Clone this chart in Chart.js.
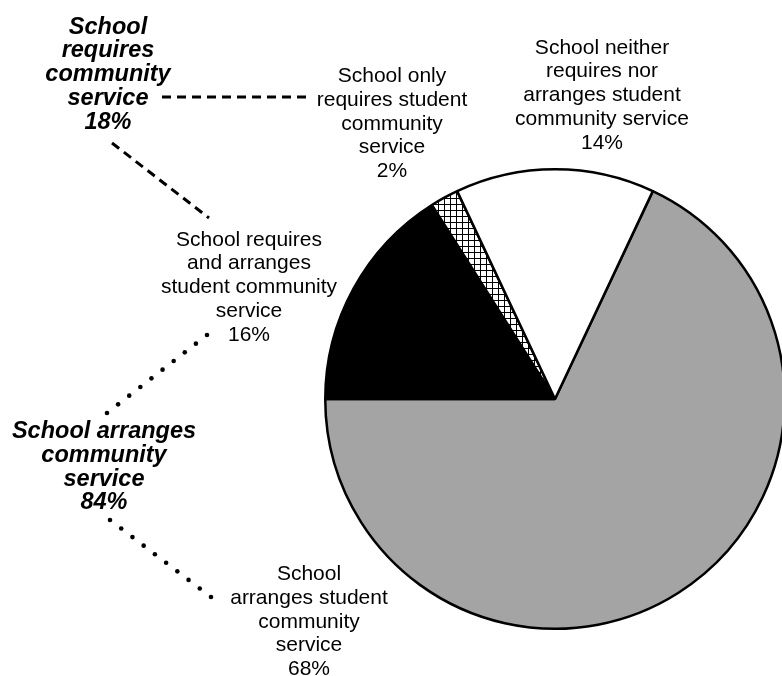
<!DOCTYPE html>
<html>
<head>
<meta charset="utf-8">
<title>School community service</title>
<script src="https://cdn.jsdelivr.net/npm/chart.js@4.4.1/dist/chart.umd.min.js"></script>
<style>
  html, body {
    margin: 0;
    padding: 0;
    background: #ffffff;
    overflow: hidden;
  }
  .chart-wrap {
    position: relative;
    width: 800px;
    height: 676px;
  }
</style>
</head>
<body>
<div class="chart-wrap">
  <canvas id="serviceChart" width="800" height="676"></canvas>
</div>
<script>
// Slice order follows the pie clockwise, starting at the gray slice
const categories = [
  'School arranges student community service',
  'School requires and arranges student community service',
  'School only requires student community service',
  'School neither requires nor arranges student community service'
];
const shares = [68, 16, 2, 14];

// Text lines for each slice label (the percent is added from shares)
const sliceLabelLines = [
  ['School', 'arranges student', 'community', 'service'],
  ['School requires', 'and arranges', 'student community', 'service'],
  ['School only', 'requires student', 'community', 'service'],
  ['School neither', 'requires nor', 'arranges student', 'community service']
];

// Group labels: which slices each group adds up
const groupLabelLines = [
  ['School', 'requires', 'community', 'service'],
  ['School arranges', 'community', 'service']
];
const groupMembers = [[1, 2], [0, 1]];

/**
 * Small crosshatch tile for the 2% slice
 */
function makeCrosshatch() {
  const tile = document.createElement('canvas');
  tile.width = 6;
  tile.height = 6;
  const c = tile.getContext('2d');
  c.fillStyle = '#ffffff';
  c.fillRect(0, 0, 6, 6);
  c.fillStyle = '#000000';
  c.fillRect(0, 0, 6, 1);
  c.fillRect(0, 0, 1, 6);
  return c.createPattern(tile, 'repeat');
}

/**
 * Draw a block of centered lines
 */
function drawBlock(ctx, lines, cx, y0, step, font) {
  ctx.font = font;
  ctx.fillStyle = '#000000';
  ctx.textAlign = 'center';
  ctx.textBaseline = 'alphabetic';
  lines.forEach((line, i) => ctx.fillText(line, cx, y0 + i * step));
}

function drawDashed(ctx, x1, y1, x2, y2) {
  ctx.save();
  ctx.strokeStyle = '#000000';
  ctx.lineWidth = 3;
  ctx.setLineDash([9, 6]);
  ctx.beginPath();
  ctx.moveTo(x1, y1);
  ctx.lineTo(x2, y2);
  ctx.stroke();
  ctx.restore();
}

function drawDotted(ctx, x1, y1, x2, y2, count) {
  ctx.save();
  ctx.fillStyle = '#000000';
  for (let i = 0; i < count; i++) {
    const t = i / (count - 1);
    ctx.beginPath();
    ctx.arc(x1 + (x2 - x1) * t, y1 + (y2 - y1) * t, 2.3, 0, Math.PI * 2);
    ctx.fill();
  }
  ctx.restore();
}

// Label placement (center x, first baseline)
const sliceLabelPos = [[309, 580], [249, 245.5], [392, 82], [602, 53.5]];
const groupLabelPos = [[108, 33.5], [104, 438]];

const labelPlugin = {
  id: 'sliceLabels',
  afterDraw(chart) {
    const ctx = chart.ctx;
    const regular = '21px "Liberation Sans", Arial, sans-serif';
    const boldItalic = 'italic bold 23.5px "Liberation Sans", Arial, sans-serif';

    ctx.save();
    sliceLabelLines.forEach((lines, i) => {
      const pos = sliceLabelPos[i];
      drawBlock(ctx, lines.concat(shares[i] + '%'), pos[0], pos[1], 23.8, regular);
    });
    groupLabelLines.forEach((lines, g) => {
      const total = groupMembers[g].reduce((s, k) => s + shares[k], 0);
      const pos = groupLabelPos[g];
      drawBlock(ctx, lines.concat(total + '%'), pos[0], pos[1], 23.8, boldItalic);
    });

    // connectors
    drawDashed(ctx, 162, 97, 306, 97);
    drawDashed(ctx, 112, 143, 209, 218);
    drawDotted(ctx, 107, 413, 207, 335, 10);
    drawDotted(ctx, 110, 520, 211, 597, 10);
    ctx.restore();
  }
};

function initPieChart() {
  const el = document.getElementById('serviceChart');
  if (!el) return;

  new Chart(el, {
    type: 'pie',
    data: {
      labels: categories,
      datasets: [{
        data: shares,
        backgroundColor: ['#a4a4a4', '#000000', makeCrosshatch(), '#ffffff'],
        borderColor: '#000000',
        borderWidth: 2.5,
        hoverOffset: 0,
        offset: 0
      }]
    },
    options: {
      responsive: false,
      animation: false,
      rotation: 25.2,
      layout: {
        padding: { left: 324, top: 168, right: 14, bottom: 46 }
      },
      plugins: {
        legend: { display: false },
        tooltip: { enabled: false }
      }
    },
    plugins: [labelPlugin]
  });
}

initPieChart();
</script>
</body>
</html>
